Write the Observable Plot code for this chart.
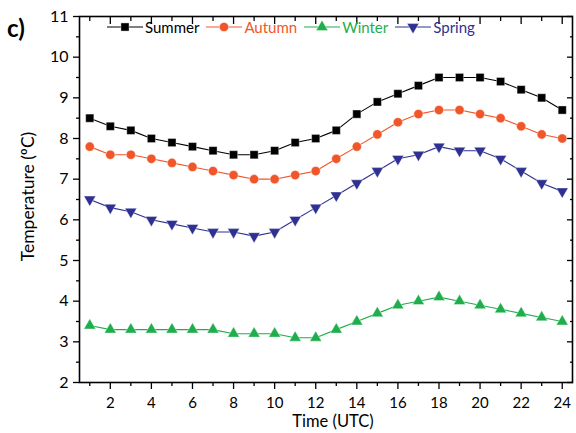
<!DOCTYPE html>
<html><head><meta charset="utf-8">
<script src="https://cdn.jsdelivr.net/npm/d3@7"></script>
<script src="https://cdn.jsdelivr.net/npm/@observablehq/plot@0.6"></script>
<style>
body{margin:0;background:#fff;}
#wrap{position:relative;width:576px;height:433px;font-family:Lato,sans-serif;background:#fff;}
#panel{position:absolute;left:7px;top:16px;font-size:24px;font-weight:700;line-height:1;}
#legend{position:absolute;left:107px;top:19px;display:flex;align-items:center;font-size:15px;line-height:16px;}
#legend .item{display:flex;align-items:center;margin-right:7px;}
#legend svg{display:block;margin-right:2px;}
</style></head><body><div id="wrap"><div id="panel">c)</div><div id="legend"></div></div>
<script>
const hours = [1,2,3,4,5,6,7,8,9,10,11,12,13,14,15,16,17,18,19,20,21,22,23,24];
const seriesNames = ["Summer","Autumn","Winter","Spring"];
const seriesColors = ["#000000","#f0562a","#1fae4b","#2e3192"];
const seriesSymbols = ["square","circle","triangle","triangle"];
const seriesRotate = [0,0,0,180];
const seriesRadius = [4.6,4.6,4.4,4.4];
const summer = [8.5,8.3,8.2,8.0,7.9,7.8,7.7,7.6,7.6,7.7,7.9,8.0,8.2,8.6,8.9,9.1,9.3,9.5,9.5,9.5,9.4,9.2,9.0,8.7];
const autumn = [7.8,7.6,7.6,7.5,7.4,7.3,7.2,7.1,7.0,7.0,7.1,7.2,7.5,7.8,8.1,8.4,8.6,8.7,8.7,8.6,8.5,8.3,8.1,8.0];
const winter = [3.4,3.3,3.3,3.3,3.3,3.3,3.3,3.2,3.2,3.2,3.1,3.1,3.3,3.5,3.7,3.9,4.0,4.1,4.0,3.9,3.8,3.7,3.6,3.5];
const spring = [6.5,6.3,6.2,6.0,5.9,5.8,5.7,5.7,5.6,5.7,6.0,6.3,6.6,6.9,7.2,7.5,7.6,7.8,7.7,7.7,7.5,7.2,6.9,6.7];
const seriesValues = [summer, autumn, winter, spring];
const yMajor = [2,3,4,5,6,7,8,9,10,11];
const yMinor = [2.5,3.5,4.5,5.5,6.5,7.5,8.5,9.5,10.5];
const xMajor = [2,4,6,8,10,12,14,16,18,20,22,24];
const xMinor = [1,3,5,7,9,11,13,15,17,19,21,23];
const xTitle = "Time (UTC)";
const yTitle = "Temperature (ºC)";

const rows = seriesNames.flatMap((name, i) =>
  hours.map((h, j) => ({hour: h, temp: seriesValues[i][j], series: name, idx: i})));

const seriesMarks = seriesNames.flatMap((name, i) => {
  const d = rows.filter(r => r.series === name);
  return [
    Plot.line(d, {x: "hour", y: "temp", stroke: seriesColors[i], strokeWidth: 1.1}),
    Plot.dot(d, {x: "hour", y: "temp", symbol: () => seriesSymbols[i], fill: seriesColors[i],
      r: seriesRadius[i], rotate: seriesRotate[i], stroke: "white", strokeWidth: 0.4})
  ];
});

const blank = () => "";
const chart = Plot.plot({
  width: 576, height: 433,
  marginLeft: 79, marginRight: 4, marginTop: 16, marginBottom: 51,
  x: {domain: [0.5, 24.5]},
  y: {domain: [2, 11]},
  symbol: {type: "identity"},
  style: {fontFamily: "Lato, sans-serif", fontSize: "16px", color: "black", background: "white", overflow: "visible"},
  marks: [
    Plot.axisY(yMajor, {anchor: "left", tickSize: 6, tickPadding: 5, label: null, strokeWidth: 1.3}),
    Plot.axisY(yMinor, {anchor: "left", tickSize: 3, tickFormat: blank, label: null, strokeWidth: 1.3}),
    Plot.axisY(yMajor, {anchor: "right", tickSize: 6, dx: -6, tickFormat: blank, label: null, strokeWidth: 1.3}),
    Plot.axisY(yMinor, {anchor: "right", tickSize: 3, dx: -3, tickFormat: blank, label: null, strokeWidth: 1.3}),
    Plot.axisX(xMajor, {anchor: "bottom", tickSize: 7, tickPadding: 8, fontSize: 15, label: null, strokeWidth: 1.3}),
    Plot.axisX(xMinor, {anchor: "bottom", tickSize: 4, tickFormat: blank, label: null, strokeWidth: 1.3}),
    Plot.axisX(xMajor, {anchor: "top", tickSize: 7, dy: 7, tickFormat: blank, label: null, strokeWidth: 1.3}),
    Plot.axisX(xMinor, {anchor: "top", tickSize: 4, dy: 4, tickFormat: blank, label: null, strokeWidth: 1.3}),
    Plot.frame({stroke: "black", strokeWidth: 1.6}),
    ...seriesMarks,
    Plot.text([yTitle], {text: d => d, frameAnchor: "left", textAnchor: "middle", lineAnchor: "middle", rotate: -90, dx: -51, dy: -3, fontSize: 17.5}),
    Plot.text([xTitle], {text: d => d, frameAnchor: "bottom", textAnchor: "middle", lineAnchor: "middle", dx: 7, dy: 39, fontSize: 16.5})
  ]
});
document.getElementById("wrap").prepend(chart);

// legend
const legend = d3.select("#legend");
seriesNames.forEach((name, i) => {
  const item = legend.append("div").attr("class", "item");
  const svg = item.append("svg").attr("width", 36).attr("height", 16);
  svg.append("line").attr("x1", 0).attr("x2", 36).attr("y1", 8).attr("y2", 8)
    .attr("stroke", seriesColors[i]).attr("stroke-width", 1.1);
  const symType = {square: d3.symbolSquare, circle: d3.symbolCircle, triangle: d3.symbolTriangle}[seriesSymbols[i]];
  svg.append("path").attr("d", d3.symbol(symType, Math.PI * seriesRadius[i] ** 2)())
    .attr("transform", `translate(18,8) rotate(${seriesRotate[i]})`)
    .attr("fill", seriesColors[i]).attr("stroke", "white").attr("stroke-width", 0.4);
  item.append("span").text(name).style("color", seriesColors[i]);
});
</script>
</body></html>
